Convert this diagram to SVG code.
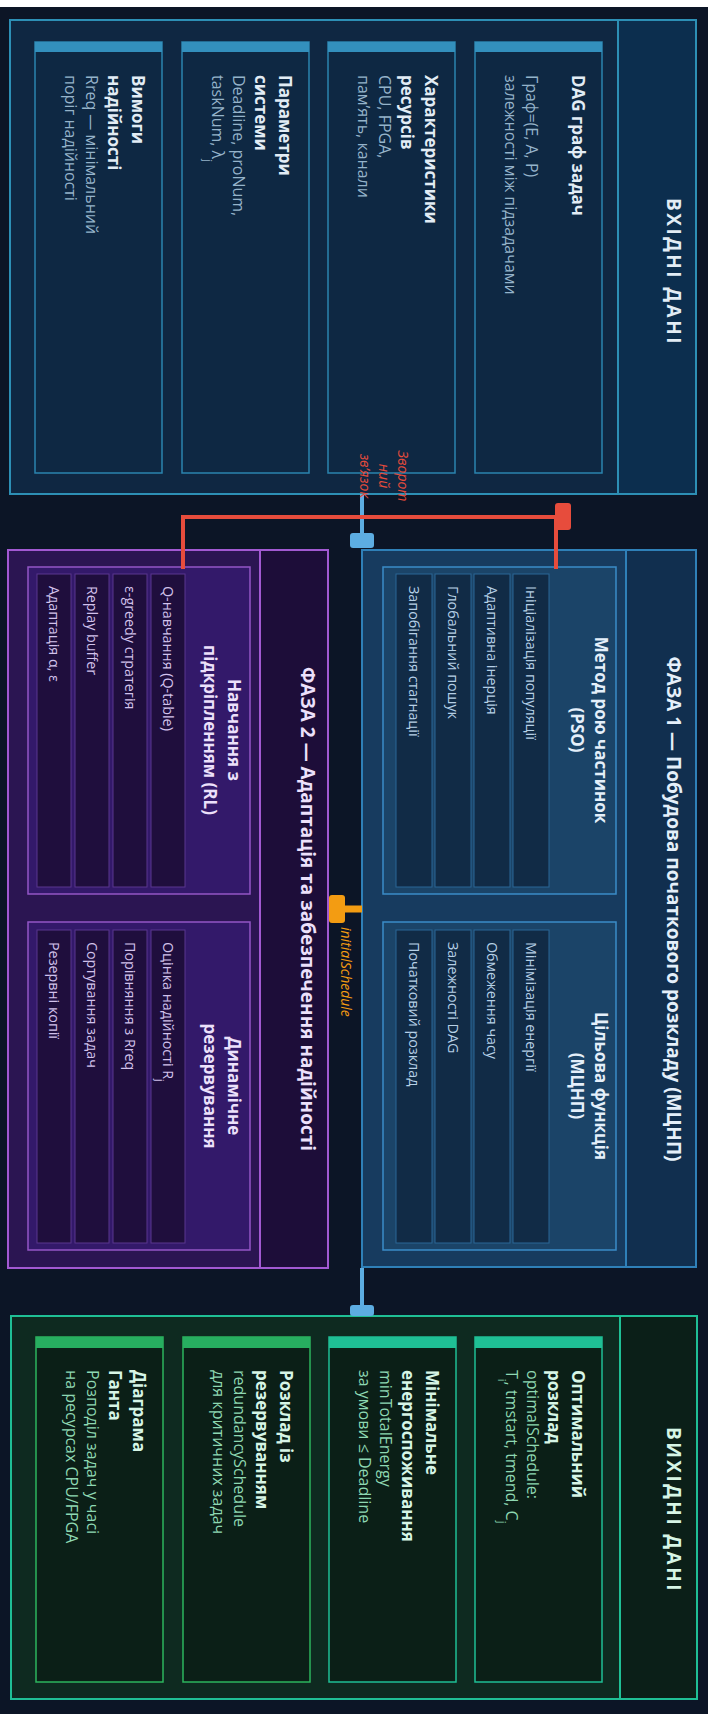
<svg xmlns="http://www.w3.org/2000/svg" width="712" height="1721" viewBox="0 0 712 1721">
  <style>
    text { font-family: "Open Sans", "Noto Sans", "DejaVu Sans", sans-serif; }
    .hdr { font-size: 19px; font-weight: 700; text-anchor: middle; }
    .spaced { letter-spacing: 2.5px; }
    .ttl { font-size: 17px; font-weight: 700; }
    .ttlc { font-size: 17px; font-weight: 700; text-anchor: middle; }
    .sub { font-size: 16px; }
    .itm { font-size: 14.3px; }
    .lbl { font-size: 14px; font-style: italic; }
    .in-box { fill: #0f2742; stroke: #2d8fb5; stroke-width: 2; }
    .in-hdr { fill: #0c2e4e; stroke: #2d8fb5; stroke-width: 2; }
    .in-card { fill: #0e2843; stroke: #2b84ae; stroke-width: 1.5; }
    .in-strip { fill: #3390bd; }
    .in-t { fill: #e2ecf5; }
    .in-s { fill: #95b3ca; }
    .p1-box { fill: #173b5f; stroke: #2f80b8; stroke-width: 2; }
    .p1-hdr { fill: #112f4f; stroke: #2f80b8; stroke-width: 2; }
    .p1-in { fill: #1b4468; stroke: #3b8cc8; stroke-width: 1.5; }
    .p1-item { fill: #112b46; stroke: #2b6796; stroke-width: 1; }
    .p1-t { fill: #e4effa; }
    .p1-s { fill: #b6d0e6; }
    .p2-box { fill: #2b1552; stroke: #a259d2; stroke-width: 2; }
    .p2-hdr { fill: #1d0d39; stroke: #a259d2; stroke-width: 2; }
    .p2-in { fill: #33196a; stroke: #9456c6; stroke-width: 1.5; }
    .p2-item { fill: #1f0e3d; stroke: #5b368f; stroke-width: 1; }
    .p2-t { fill: #ece0fb; }
    .p2-s { fill: #d2c2ec; }
    .out-box { fill: #0e2a20; stroke: #1fbf95; stroke-width: 2; }
    .out-hdr { fill: #0b1f18; stroke: #1fbf95; stroke-width: 2; }
    .out-card { fill: #0b1f17; stroke-width: 1.5; }
    .out-t { fill: #d6f5e6; }
    .out-s { fill: #8ed8b2; }
    .teal { stroke: #1fbf95; }
    .green { stroke: #2db55d; }
    .wire { fill: none; stroke-width: 4; }
  </style>

  <!-- page -->
  <rect x="0" y="0" width="712" height="1721" fill="#ffffff"/>
  <rect x="0" y="7" width="708" height="1707" fill="#0c1526"/>

  <!-- ВХІДНІ ДАНІ -->
  <g id="input">
    <rect class="in-box" x="10" y="20" width="686" height="474"/>
    <rect class="in-hdr" x="618" y="20" width="78" height="474"/>
    <text class="hdr spaced in-t" transform="translate(667,272) rotate(90)">ВХІДНІ ДАНІ</text>

    <g id="in-dag">
      <rect class="in-card" x="475" y="42" width="127" height="431"/>
      <rect class="in-strip" x="475" y="42" width="127" height="10"/>
      <text class="ttl in-t" transform="translate(572,75) rotate(90)">DAG граф задач</text>
      <text class="sub in-s" transform="translate(526,75) rotate(90)">Граф=(E, A, P)</text>
      <text class="sub in-s" transform="translate(505,75) rotate(90)">залежності між підзадачами</text>
    </g>
    <g id="in-res">
      <rect class="in-card" x="328" y="42" width="127" height="431"/>
      <rect class="in-strip" x="328" y="42" width="127" height="10"/>
      <text class="ttl in-t" transform="translate(425,75) rotate(90)">Характеристики</text>
      <text class="ttl in-t" transform="translate(401,75) rotate(90)">ресурсів</text>
      <text class="sub in-s" transform="translate(379,75) rotate(90)">CPU, FPGA,</text>
      <text class="sub in-s" transform="translate(358,75) rotate(90)">пам’ять, канали</text>
    </g>
    <g id="in-sys">
      <rect class="in-card" x="182" y="42" width="127" height="431"/>
      <rect class="in-strip" x="182" y="42" width="127" height="10"/>
      <text class="ttl in-t" transform="translate(279,75) rotate(90)">Параметри</text>
      <text class="ttl in-t" transform="translate(255,75) rotate(90)">системи</text>
      <text class="sub in-s" transform="translate(233,75) rotate(90)">Deadline, proNum,</text>
      <text class="sub in-s" transform="translate(212,75) rotate(90)">taskNum, λ<tspan font-size="11" baseline-shift="sub">j</tspan></text>
    </g>
    <g id="in-rel">
      <rect class="in-card" x="35" y="42" width="127" height="431"/>
      <rect class="in-strip" x="35" y="42" width="127" height="10"/>
      <text class="ttl in-t" transform="translate(132,75) rotate(90)">Вимоги</text>
      <text class="ttl in-t" transform="translate(108,75) rotate(90)">надійності</text>
      <text class="sub in-s" transform="translate(86,75) rotate(90)">Rreq — мінімальний</text>
      <text class="sub in-s" transform="translate(65,75) rotate(90)">поріг надійності</text>
    </g>
  </g>

  <!-- ФАЗА 1 -->
  <g id="phase1">
    <rect class="p1-box" x="362" y="550" width="334" height="717"/>
    <rect class="p1-hdr" x="626" y="550" width="70" height="717"/>
    <text class="hdr p1-t" transform="translate(667,909) rotate(90)">ФАЗА 1 — Побудова початкового розкладу (МЦНП)</text>

    <g id="p1-pso">
      <rect class="p1-in" x="383" y="567" width="233" height="327"/>
      <text class="ttlc p1-t" transform="translate(595,730) rotate(90)">Метод рою частинок</text>
      <text class="ttlc p1-t" transform="translate(571,730) rotate(90)">(PSO)</text>
      <rect class="p1-item" x="513" y="574" width="36" height="313"/>
      <rect class="p1-item" x="474" y="574" width="36" height="313"/>
      <rect class="p1-item" x="435" y="574" width="36" height="313"/>
      <rect class="p1-item" x="396" y="574" width="36" height="313"/>
      <text class="itm p1-s" transform="translate(526,586) rotate(90)">Ініціалізація популяції</text>
      <text class="itm p1-s" transform="translate(487,586) rotate(90)">Адаптивна інерція</text>
      <text class="itm p1-s" transform="translate(448,586) rotate(90)">Глобальний пошук</text>
      <text class="itm p1-s" transform="translate(409,586) rotate(90)">Запобігання стагнації</text>
    </g>
    <g id="p1-obj">
      <rect class="p1-in" x="383" y="922" width="233" height="328"/>
      <text class="ttlc p1-t" transform="translate(595,1086) rotate(90)">Цільова функція</text>
      <text class="ttlc p1-t" transform="translate(571,1086) rotate(90)">(МЦНП)</text>
      <rect class="p1-item" x="513" y="930" width="36" height="313"/>
      <rect class="p1-item" x="474" y="930" width="36" height="313"/>
      <rect class="p1-item" x="435" y="930" width="36" height="313"/>
      <rect class="p1-item" x="396" y="930" width="36" height="313"/>
      <text class="itm p1-s" transform="translate(526,942) rotate(90)">Мінімізація енергії</text>
      <text class="itm p1-s" transform="translate(487,942) rotate(90)">Обмеження часу</text>
      <text class="itm p1-s" transform="translate(448,942) rotate(90)">Залежності DAG</text>
      <text class="itm p1-s" transform="translate(409,942) rotate(90)">Початковий розклад</text>
    </g>
  </g>

  <!-- ФАЗА 2 -->
  <g id="phase2">
    <rect class="p2-box" x="8" y="550" width="320" height="718"/>
    <rect class="p2-hdr" x="260" y="550" width="68" height="718"/>
    <text class="hdr p2-t" transform="translate(301,909) rotate(90)">ФАЗА 2 — Адаптація та забезпечення надійності</text>

    <g id="p2-rl">
      <rect class="p2-in" x="28" y="567" width="222" height="327"/>
      <text class="ttlc p2-t" transform="translate(228,730) rotate(90)">Навчання з</text>
      <text class="ttlc p2-t" transform="translate(204,730) rotate(90)">підкріпленням (RL)</text>
      <rect class="p2-item" x="151" y="574" width="34" height="313"/>
      <rect class="p2-item" x="113" y="574" width="34" height="313"/>
      <rect class="p2-item" x="75" y="574" width="34" height="313"/>
      <rect class="p2-item" x="37" y="574" width="34" height="313"/>
      <text class="itm p2-s" transform="translate(163,586) rotate(90)">Q-навчання (Q-table)</text>
      <text class="itm p2-s" transform="translate(125,586) rotate(90)">ε-greedy стратегія</text>
      <text class="itm p2-s" transform="translate(87,586) rotate(90)">Replay buffer</text>
      <text class="itm p2-s" transform="translate(49,586) rotate(90)">Адаптація α, ε</text>
    </g>
    <g id="p2-red">
      <rect class="p2-in" x="28" y="922" width="222" height="328"/>
      <text class="ttlc p2-t" transform="translate(228,1086) rotate(90)">Динамічне</text>
      <text class="ttlc p2-t" transform="translate(204,1086) rotate(90)">резервування</text>
      <rect class="p2-item" x="151" y="930" width="34" height="313"/>
      <rect class="p2-item" x="113" y="930" width="34" height="313"/>
      <rect class="p2-item" x="75" y="930" width="34" height="313"/>
      <rect class="p2-item" x="37" y="930" width="34" height="313"/>
      <text class="itm p2-s" transform="translate(163,942) rotate(90)">Оцінка надійності R<tspan font-size="10" baseline-shift="sub">j</tspan></text>
      <text class="itm p2-s" transform="translate(125,942) rotate(90)">Порівняння з Rreq</text>
      <text class="itm p2-s" transform="translate(87,942) rotate(90)">Сортування задач</text>
      <text class="itm p2-s" transform="translate(49,942) rotate(90)">Резервні копії</text>
    </g>
  </g>

  <!-- ВИХІДНІ ДАНІ -->
  <g id="output">
    <rect class="out-box" x="11" y="1316" width="686" height="383"/>
    <rect class="out-hdr" x="620" y="1316" width="77" height="383"/>
    <text class="hdr spaced out-t" transform="translate(667,1510) rotate(90)">ВИХІДНІ ДАНІ</text>

    <g id="out-opt">
      <rect class="out-card teal" x="475" y="1337" width="127" height="345"/>
      <rect x="475" y="1337" width="127" height="11" fill="#1fbf95"/>
      <text class="ttl out-t" transform="translate(572,1370) rotate(90)">Оптимальний</text>
      <text class="ttl out-t" transform="translate(548,1370) rotate(90)">розклад</text>
      <text class="sub out-s" transform="translate(527,1370) rotate(90)">optimalSchedule:</text>
      <text class="sub out-s" transform="translate(506,1370) rotate(90)">T<tspan font-size="11" baseline-shift="sub">i</tspan>, tmstart, tmend, C<tspan font-size="11" baseline-shift="sub">j</tspan></text>
    </g>
    <g id="out-energy">
      <rect class="out-card teal" x="329" y="1337" width="127" height="345"/>
      <rect x="329" y="1337" width="127" height="11" fill="#1fbf95"/>
      <text class="ttl out-t" transform="translate(426,1370) rotate(90)">Мінімальне</text>
      <text class="ttl out-t" transform="translate(402,1370) rotate(90)">енергоспоживання</text>
      <text class="sub out-s" transform="translate(380,1370) rotate(90)">minTotalEnergy</text>
      <text class="sub out-s" transform="translate(359,1370) rotate(90)">за умови ≤ Deadline</text>
    </g>
    <g id="out-redund">
      <rect class="out-card green" x="183" y="1337" width="127" height="345"/>
      <rect x="183" y="1337" width="127" height="11" fill="#27ae60"/>
      <text class="ttl out-t" transform="translate(280,1370) rotate(90)">Розклад із</text>
      <text class="ttl out-t" transform="translate(256,1370) rotate(90)">резервуванням</text>
      <text class="sub out-s" transform="translate(234,1370) rotate(90)">redundancySchedule</text>
      <text class="sub out-s" transform="translate(213,1370) rotate(90)">для критичних задач</text>
    </g>
    <g id="out-gantt">
      <rect class="out-card green" x="36" y="1337" width="127" height="345"/>
      <rect x="36" y="1337" width="127" height="11" fill="#27ae60"/>
      <text class="ttl out-t" transform="translate(133,1370) rotate(90)">Діаграма</text>
      <text class="ttl out-t" transform="translate(109,1370) rotate(90)">Ганта</text>
      <text class="sub out-s" transform="translate(87,1370) rotate(90)">Розподіл задач у часі</text>
      <text class="sub out-s" transform="translate(66,1370) rotate(90)">на ресурсах CPU/FPGA</text>
    </g>
  </g>

  <!-- connectors -->
  <g id="connectors">
    <!-- input -> phase 1 -->
    <line class="wire" x1="362" y1="494" x2="362" y2="538" stroke="#5dade2"/>
    <rect x="350" y="533" width="24" height="15" rx="3" fill="#5dade2"/>
    <!-- phase 1 -> output -->
    <line class="wire" x1="362" y1="1268" x2="362" y2="1310" stroke="#5dade2"/>
    <rect x="350" y="1305" width="24" height="11" rx="3" fill="#5dade2"/>
    <!-- feedback: RL -> PSO -->
    <path class="wire" d="M183 569 V517 H556 V569" stroke="#e74c3c"/>
    <rect x="555" y="503" width="16" height="27" rx="3" fill="#e74c3c"/>
    <text class="lbl" fill="#e74c3c" text-anchor="middle" transform="translate(398,476) rotate(90)">Зворот</text>
    <text class="lbl" fill="#e74c3c" text-anchor="middle" transform="translate(379,476) rotate(90)">ний</text>
    <text class="lbl" fill="#e74c3c" text-anchor="middle" transform="translate(360,476) rotate(90)">зв’язок</text>
    <!-- phase 1 -> phase 2 -->
    <line x1="362" y1="909" x2="343" y2="909" stroke="#f39c12" stroke-width="7"/>
    <rect x="329" y="895" width="16" height="28" rx="3" fill="#f39c12"/>
    <text class="lbl" fill="#f39c12" transform="translate(341,927) rotate(90)">initialSchedule</text>
  </g>
</svg>
